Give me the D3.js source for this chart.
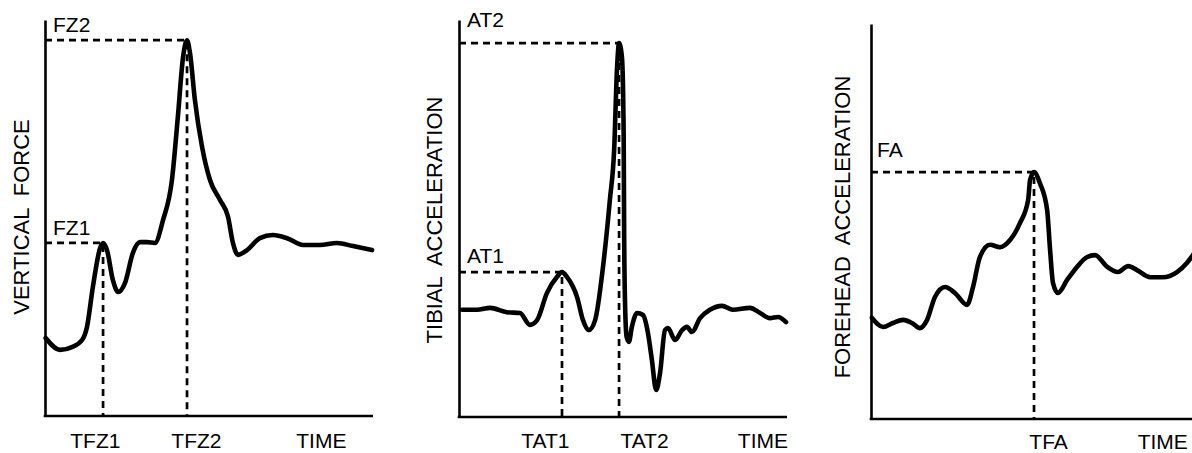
<!DOCTYPE html>
<html>
<head>
<meta charset="utf-8">
<script src="https://cdn.jsdelivr.net/npm/d3@7"></script>
<style>
  body { margin: 0; background: #fff; }
  svg { display: block; }
  text { font-family: "Liberation Sans", Arial, sans-serif; fill: #000; }
  .curve { fill: none; stroke: #000; stroke-width: 4.6; stroke-linejoin: round; stroke-linecap: round; }
  .guide { fill: none; stroke: #000; stroke-width: 2.7; stroke-dasharray: 7,5; }
  .axis path { stroke: #000; stroke-width: 2.6; }
  .title { word-spacing: 6px; }
</style>
</head>
<body>
<div id="chart"></div>
<script>
// time and value are in relative units (0-100) for each panel

// vertical force
var forceTime  = [0.2, 4.6, 8.2, 11.3, 12.8, 14.6, 16.8, 17.7, 18.9, 20.7, 22.3, 24.4, 26.8, 29.0, 31.1, 33.5, 36.0, 38.7, 40.5, 42.1, 43.3, 44.2, 45.7, 47.9, 50.3, 53.4, 55.8, 57.3, 58.8, 61.6, 65.5, 69.5, 73.8, 78.7, 83.8, 89.0, 93.9, 99.7];
var forceValue = [19.7, 16.7, 17.4, 19.2, 22.5, 32.6, 42.4, 43.7, 41.9, 34.3, 31.3, 33.6, 41.2, 43.9, 43.9, 43.7, 49.5, 59.6, 75.5, 90.7, 94.9, 91.7, 79.8, 67.9, 59.6, 54.5, 50.3, 43.7, 40.7, 41.9, 44.9, 45.7, 44.9, 43.2, 43.2, 43.7, 42.9, 41.9];
var forcePeaks = ["FZ1", "FZ2"];
var forcePeakIdx = [7, 20];
var forceTicks = ["TFZ1", "TFZ2", "TIME"];
var forceTickAt = [15.2, 46.0, 84.1];

// tibial acceleration
var tibiaTime  = [0.9, 5.5, 9.5, 14.6, 18.6, 21.6, 23.8, 26.8, 29.9, 31.4, 32.9, 36.0, 37.8, 39.6, 41.5, 43.9, 46.0, 47.3, 48.2, 48.8, 49.7, 50.2, 50.35, 50.6, 51.1, 51.8, 52.7, 54.3, 56.1, 57.6, 58.8, 60.1, 61.3, 62.8, 63.7, 65.9, 68.0, 69.5, 71.0, 73.5, 76.5, 80.2, 83.5, 88.7, 91.8, 94.8, 97.3, 99.7];
var tibiaValue = [27.0, 27.0, 27.5, 26.4, 26.2, 23.2, 24.4, 31.2, 35.3, 36.5, 35.3, 30.2, 24.4, 21.9, 24.4, 37.8, 54.7, 67.3, 88.2, 94.2, 90.4, 71.5, 46.3, 29.5, 20.2, 18.9, 22.7, 26.2, 25.7, 21.2, 14.4, 6.8, 11.1, 21.9, 22.4, 19.4, 21.9, 22.7, 21.4, 24.9, 27.0, 28.0, 27.0, 27.5, 26.2, 24.9, 25.2, 23.9];
var tibiaPeaks = ["AT1", "AT2"];
var tibiaPeakIdx = [9, 19];
var tibiaTicks = ["TAT1", "TAT2", "TIME"];
var tibiaTickAt = [26.2, 56.4, 92.5];

// forehead acceleration
var headTime  = [0.3, 3.7, 6.7, 9.8, 12.5, 14.9, 17.1, 19.5, 22.6, 25.6, 29.3, 31.1, 33.2, 36.3, 39.3, 42.4, 45.4, 47.9, 48.5, 49.7, 51.5, 53.7, 54.6, 55.5, 57.0, 59.8, 62.8, 65.9, 68.3, 72.0, 75.3, 78.4, 81.1, 85.1, 89.0, 93.3, 96.3, 98.8];
var headValue = [25.6, 23.3, 24.3, 25.1, 24.3, 23.0, 25.1, 30.9, 33.4, 31.9, 28.9, 33.4, 41.0, 44.1, 43.5, 45.3, 49.6, 55.4, 60.5, 62.5, 59.7, 52.9, 42.8, 34.4, 31.9, 35.2, 38.5, 41.0, 41.5, 38.5, 37.2, 38.7, 37.7, 35.9, 35.9, 37.2, 39.5, 42.3];
var headPeaks = ["FA"];
var headPeakIdx = [19];
var headTicks = ["TFA", "TIME"];
var headTickAt = [54.0, 88.8];

var width = 1192, height = 453;

var svg = d3.select("#chart").append("svg")
    .attr("width", width)
    .attr("height", height);

// one entry per panel: where it sits and how its labels are offset
var panels = [
  { title: "VERTICAL FORCE", time: forceTime, value: forceValue,
    peaks: forcePeaks, peakIdx: forcePeakIdx, ticks: forceTicks, tickAt: forceTickAt,
    left: 45, right: 373, top: 20, bottom: 416, titleX: 29, titleY: 217,
    labelDx: [8, 8], labelDy: [-8, -8], tickPad: 17 },
  { title: "TIBIAL ACCELERATION", time: tibiaTime, value: tibiaValue,
    peaks: tibiaPeaks, peakIdx: tibiaPeakIdx, ticks: tibiaTicks, tickAt: tibiaTickAt,
    left: 459, right: 787, top: 20, bottom: 417, titleX: 442, titleY: 220,
    labelDx: [8, 8], labelDy: [-9, -16], tickPad: 16 },
  { title: "FOREHEAD ACCELERATION", time: headTime, value: headValue,
    peaks: headPeaks, peakIdx: headPeakIdx, ticks: headTicks, tickAt: headTickAt,
    left: 871, right: 1199, top: 24, bottom: 419, titleX: 850, titleY: 227,
    labelDx: [6], labelDy: [-15], tickPad: 15 }
];

panels.forEach(function(p) {
  var x = d3.scaleLinear().domain([0, 100]).range([p.left, p.right]);
  var y = d3.scaleLinear().domain([0, 100]).range([p.bottom, p.top]);
  var pts = p.time.map(function(t, i) { return [t, p.value[i]]; });

  var g = svg.append("g");

  // dashed guides from each peak to both axes
  p.peakIdx.forEach(function(k, j) {
    var pt = pts[k];
    g.append("path")
        .attr("class", "guide")
        .attr("d", "M" + x(0) + "," + y(pt[1]) + "H" + x(pt[0]) + "V" + y(0));
    g.append("text")
        .attr("x", x(0) + p.labelDx[j])
        .attr("y", y(pt[1]) + p.labelDy[j])
        .attr("font-size", 21)
        .text(p.peaks[j]);
  });

  // x axis with the time labels
  g.append("g")
      .attr("class", "axis")
      .attr("transform", "translate(0," + y(0) + ")")
      .call(d3.axisBottom(x)
        .tickValues(p.tickAt)
        .tickFormat(function(d, i) { return p.ticks[i]; })
        .tickSize(0)
        .tickSizeOuter(0)
        .tickPadding(p.tickPad))
      .call(function(a) {
        a.selectAll("text").attr("font-size", 21).attr("font-family", null);
        a.select(".domain").attr("d", "M" + (x(0) - 1.3) + ",0H" + x(100));
      });

  // y axis, no ticks
  g.append("g")
      .attr("class", "axis")
      .attr("transform", "translate(" + x(0) + ",0)")
      .call(d3.axisLeft(y).tickValues([]).tickSizeOuter(0));

  g.append("text")
      .attr("class", "title")
      .attr("transform", "translate(" + p.titleX + "," + p.titleY + ") rotate(-90)")
      .attr("text-anchor", "middle")
      .attr("font-size", 22)
      .text(p.title);

  var line = d3.line()
      .x(function(d) { return x(d[0]); })
      .y(function(d) { return y(d[1]); })
      .curve(d3.curveMonotoneX);

  g.append("path")
      .datum(pts)
      .attr("class", "curve")
      .attr("d", line);
});
</script>
</body>
</html>
